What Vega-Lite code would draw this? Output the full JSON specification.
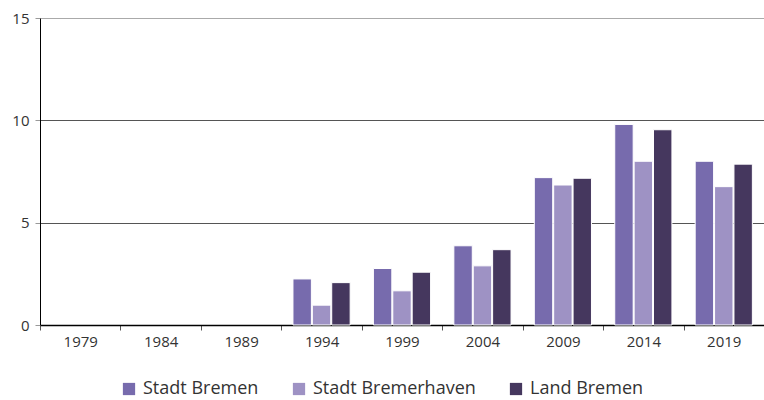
{
  "$schema": "https://vega.github.io/schema/vega-lite/v6.json",
  "width": 724,
  "height": 307,
  "autosize": {"type": "none"},
  "padding": {"left": 40, "top": 18, "right": 0, "bottom": 75},
  "background": "white",
  "config": {
    "font": "Open Sans",
    "view": {"stroke": null}
  },
  "data": {
    "values": [
      {"Jahr": "1994", "Gebiet": "Stadt Bremen", "Wert": 2.25},
      {"Jahr": "1994", "Gebiet": "Stadt Bremerhaven", "Wert": 0.97},
      {"Jahr": "1994", "Gebiet": "Land Bremen", "Wert": 2.07},
      {"Jahr": "1999", "Gebiet": "Stadt Bremen", "Wert": 2.76},
      {"Jahr": "1999", "Gebiet": "Stadt Bremerhaven", "Wert": 1.67},
      {"Jahr": "1999", "Gebiet": "Land Bremen", "Wert": 2.58},
      {"Jahr": "2004", "Gebiet": "Stadt Bremen", "Wert": 3.87},
      {"Jahr": "2004", "Gebiet": "Stadt Bremerhaven", "Wert": 2.89},
      {"Jahr": "2004", "Gebiet": "Land Bremen", "Wert": 3.68},
      {"Jahr": "2009", "Gebiet": "Stadt Bremen", "Wert": 7.2},
      {"Jahr": "2009", "Gebiet": "Stadt Bremerhaven", "Wert": 6.84},
      {"Jahr": "2009", "Gebiet": "Land Bremen", "Wert": 7.17},
      {"Jahr": "2014", "Gebiet": "Stadt Bremen", "Wert": 9.8},
      {"Jahr": "2014", "Gebiet": "Stadt Bremerhaven", "Wert": 8.0},
      {"Jahr": "2014", "Gebiet": "Land Bremen", "Wert": 9.54},
      {"Jahr": "2019", "Gebiet": "Stadt Bremen", "Wert": 8.0},
      {"Jahr": "2019", "Gebiet": "Stadt Bremerhaven", "Wert": 6.76},
      {"Jahr": "2019", "Gebiet": "Land Bremen", "Wert": 7.86}
    ]
  },
  "mark": {"type": "bar", "stroke": "white", "strokeWidth": 1},
  "encoding": {
    "x": {
      "field": "Jahr",
      "type": "nominal",
      "scale": {"domain": ["1979", "1984", "1989", "1994", "1999", "2004", "2009", "2014", "2019"], "paddingInner": 0, "paddingOuter": 0},
      "axis": {
        "title": null,
        "labelAngle": 0,
        "labelFontSize": 15,
        "labelColor": "#333333",
        "labelPadding": 4,
        "tickBand": "extent",
        "tickSize": 5,
        "tickColor": "#555555",
        "domainColor": "#000000",
        "domainWidth": 1.5,
        "grid": false
      }
    },
    "xOffset": {
      "field": "Gebiet",
      "type": "nominal",
      "sort": ["Stadt Bremen", "Stadt Bremerhaven", "Land Bremen"],
      "scale": {"paddingInner": 0.05, "paddingOuter": 0.6}
    },
    "y": {
      "field": "Wert",
      "type": "quantitative",
      "scale": {"domain": [0, 15], "nice": false},
      "axis": {
        "title": null,
        "values": [0, 5, 10, 15],
        "labelFontSize": 15,
        "labelColor": "#333333",
        "labelPadding": 6,
        "tickSize": 5,
        "tickColor": "#999999",
        "domainColor": "#000000",
        "grid": true,
        "gridColor": {"condition": {"test": "datum.value === 15", "value": "#aaaaaa"}, "value": "#555555"},
        "gridWidth": 1
      }
    },
    "color": {
      "field": "Gebiet",
      "type": "nominal",
      "sort": ["Stadt Bremen", "Stadt Bremerhaven", "Land Bremen"],
      "scale": {
        "domain": ["Stadt Bremen", "Stadt Bremerhaven", "Land Bremen"],
        "range": ["#776bad", "#9e92c4", "#45375e"]
      },
      "legend": {
        "title": null,
        "orient": "none",
        "direction": "horizontal",
        "legendX": 80,
        "legendY": 362,
        "symbolType": "square",
        "symbolSize": 150,
        "symbolStrokeWidth": 0,
        "labelFontSize": 18,
        "labelLimit": 300,
        "labelColor": "#333333",
        "labelOffset": 5,
        "columnPadding": 31
      }
    }
  }
}
